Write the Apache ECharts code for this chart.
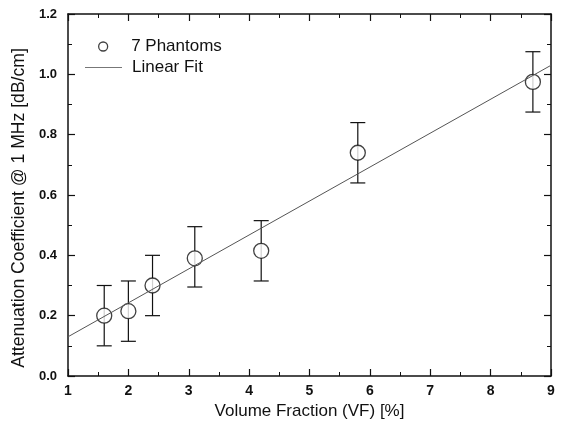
<!DOCTYPE html>
<html>
<head>
<meta charset="utf-8">
<script src="https://cdn.jsdelivr.net/npm/echarts@6/dist/echarts.min.js"></script>
<style>
html,body{margin:0;padding:0;background:#fff;}
#chart{width:561px;height:430px;}
</style>
</head>
<body>
<div id="chart"></div>
<script>
// Data
var vf = [1.6, 2.0, 2.4, 3.1, 4.2, 5.8, 8.7];
var atten = [0.20, 0.215, 0.30, 0.39, 0.415, 0.74, 0.975];
var errLow = [0.10, 0.115, 0.20, 0.295, 0.315, 0.64, 0.875];
var errHigh = [0.30, 0.315, 0.40, 0.495, 0.515, 0.84, 1.075];
var fitX = [1, 9];
var fitY = [0.13, 1.03];
var xTickLabels = ['1','2','3','4','5','6','7','8','9'];
var yTickLabels = ['0.0','0.2','0.4','0.6','0.8','1.0','1.2'];

var FONT = 'Liberation Sans, Arial, Helvetica, sans-serif';

var pts = vf.map(function (x, i) { return [x, atten[i]]; });
var errData = vf.map(function (x, i) { return [x, errLow[i], errHigh[i]]; });
var fitData = fitX.map(function (x, i) { return [x, fitY[i]]; });

var chart = echarts.init(document.getElementById('chart'));

function baseAxis(extra) {
  var a = {
    type: 'value',
    axisLine: { show: true, onZero: false, lineStyle: { color: '#111', width: 1.5 } },
    axisTick: { show: true, inside: true, length: 7, lineStyle: { color: '#111', width: 1.2 } },
    minorTick: { show: true, splitNumber: 2, length: 4, lineStyle: { color: '#111', width: 1 } },
    splitLine: { show: false }
  };
  for (var k in extra) a[k] = extra[k];
  return a;
}

var option = {
  animation: false,
  backgroundColor: '#fff',
  grid: { left: 68, right: 10, top: 14, bottom: 54 },
  legend: [
    {
      data: [{ name: '7 Phantoms', icon: 'circle', itemStyle: { color: '#fff', borderColor: '#111', borderWidth: 1.3 } }],
      left: 93, top: 33, itemWidth: 38, itemHeight: 9,
      textStyle: { fontFamily: FONT, fontSize: 17, color: '#111', padding: [0, 0, 0, 4] }
    },
    {
      data: [{ name: 'Linear Fit', icon: 'rect', itemStyle: { color: '#777' } }],
      left: 80, top: 54, itemWidth: 37, itemHeight: 1,
      textStyle: { fontFamily: FONT, fontSize: 17, color: '#111', padding: [0, 0, 0, 5] }
    }
  ],
  xAxis: [
    baseAxis({
      min: 1, max: 9, interval: 1,
      name: 'Volume Fraction (VF) [%]', nameLocation: 'middle', nameGap: 22,
      nameTextStyle: { fontFamily: FONT, fontSize: 17, color: '#111' },
      axisLabel: { fontFamily: FONT, fontSize: 14, fontWeight: 'bold', color: '#111', margin: 8,
        formatter: function (v) { return xTickLabels[Math.round(v) - 1]; } }
    }),
    baseAxis({
      min: 1, max: 9, interval: 1, position: 'top',
      axisLabel: { show: false }
    })
  ],
  yAxis: [
    baseAxis({
      min: 0, max: 1.2, interval: 0.2,
      name: 'Attenuation Coefficient @ 1 MHz [dB/cm]', nameLocation: 'middle', nameGap: 33,
      nameTextStyle: { fontFamily: FONT, fontSize: 17.6, color: '#111', padding: [0, 26, 0, 0] },
      axisLabel: { fontFamily: FONT, fontSize: 13, fontWeight: 'bold', color: '#111', margin: 11,
        formatter: function (v) { return yTickLabels[Math.round(v / 0.2)]; } }
    }),
    baseAxis({
      min: 0, max: 1.2, interval: 0.2, position: 'right',
      axisLabel: { show: false }
    })
  ],
  series: [
    {
      name: 'errors',
      type: 'custom',
      z: 2,
      data: errData,
      renderItem: function (params, api) {
        var x = api.value(0);
        var lo = api.coord([x, api.value(1)]);
        var hi = api.coord([x, api.value(2)]);
        var hw = 7.5;
        var st = { stroke: '#111', lineWidth: 1.2 };
        return {
          type: 'group',
          children: [
            { type: 'line', shape: { x1: lo[0], y1: lo[1], x2: hi[0], y2: hi[1] }, style: st },
            { type: 'line', shape: { x1: lo[0] - hw, y1: lo[1], x2: lo[0] + hw, y2: lo[1] }, style: st },
            { type: 'line', shape: { x1: hi[0] - hw, y1: hi[1], x2: hi[0] + hw, y2: hi[1] }, style: st }
          ]
        };
      }
    },
    {
      name: '7 Phantoms',
      type: 'scatter',
      z: 3,
      data: pts,
      symbol: 'circle',
      symbolSize: 15,
      itemStyle: { color: '#fff', borderColor: '#111', borderWidth: 1.3 }
    },
    {
      name: 'Linear Fit',
      type: 'line',
      z: 4,
      data: fitData,
      showSymbol: false,
      symbol: 'none',
      lineStyle: { color: '#555', width: 1 }
    }
  ]
};
chart.setOption(option);
</script>
</body>
</html>
